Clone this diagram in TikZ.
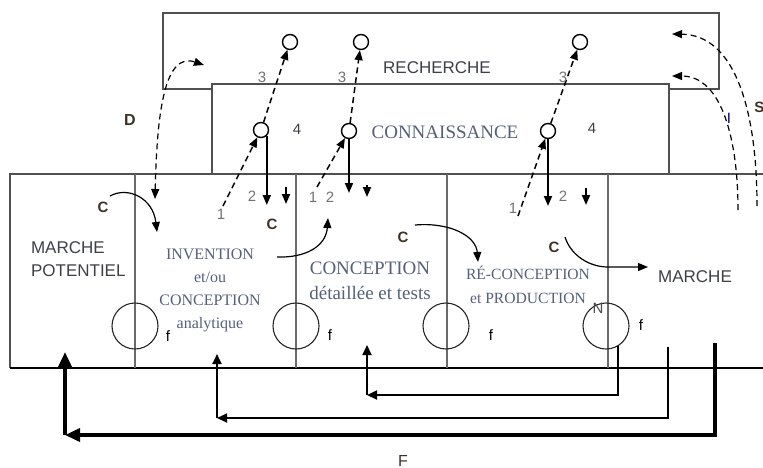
\documentclass[tikz,border=0pt]{standalone}
\usepackage{fontspec}
\setmainfont{Liberation Serif}
\setsansfont{Liberation Sans}
\usetikzlibrary{arrows.meta,positioning,calc}
\definecolor{Frame}{HTML}{505050}
\definecolor{Ink}{HTML}{3E4048}
\definecolor{Slate}{HTML}{56607A}
\definecolor{Brown}{HTML}{3E3226}
\tikzset{
  zone/.style={draw=Frame,line width=1.2pt},
  wall/.style={draw=Frame!85,line width=.7pt},
  knot/.style={draw,fill=white,circle,inner sep=0pt,minimum size=7.5pt,line width=.7pt},
  ring/.style={draw=black!85,circle,inner sep=0pt,minimum size=23pt,line width=.55pt},
  zonelab/.style={font=\sffamily\fontsize{8.5}{11.5}\selectfont,text=Ink,align=left},
  phase/.style={font=\fontsize{8}{11.5}\selectfont,text=Slate,align=center},
  num/.style={font=\sffamily\fontsize{7.5}{9}\selectfont,text=black!55,inner sep=1pt},
  clab/.style={font=\sffamily\bfseries\fontsize{7.5}{8}\selectfont,text=Brown,inner sep=1pt},
  link/.style={-{Triangle[length=5pt,width=4pt]},line width=.9pt},
  updash/.style={link,densely dashed,line width=.75pt},
  swing/.style={-{Triangle[length=5pt,width=4pt]},line width=.6pt},
  back/.style={-{Triangle[length=5pt,width=4.5pt]},line width=.9pt},
  bigback/.style={-{Triangle[length=7.5pt,width=6.5pt]},line width=1.8pt},
}
\begin{document}
\begin{tikzpicture}[x=.5pt,y=-.5pt]
\useasboundingbox (0,0) rectangle (763,467);
% blocks
\draw[zone] (163,13) rectangle (719,89);
\draw[zone,fill=white] (212,84) rectangle (669,174);
\draw[zone] (10,368) -- (10,174) -- (763,174);
\draw[zone,draw=black] (10,368) -- (763,368);
\foreach \x in {135,296,447,608} \draw[wall] (\x,174) -- (\x,368);

\node[zonelab] (rech) at (437,68) {RECHERCHE};
\node[phase,font=\fontsize{9.5}{11}\selectfont] (conn) at (445,132) {CONNAISSANCE};
\node[zonelab,anchor=west] (mpot) at (24,259) {MARCHE\\POTENTIEL};
\node[phase] (inv) at (210,290) {INVENTION\\et/ou\\CONCEPTION\\analytique};
\node[phase,font=\fontsize{9.5}{12.5}\selectfont] (det) at (370,281) {CONCEPTION\\détaillée et tests};
\node[phase,font=\fontsize{7.8}{12}\selectfont] (prod) at (528,285) {RÉ-CONCEPTION\\et PRODUCTION};
\node[zonelab] (mkt) at (695,277) {MARCHE};

% knowledge and research nodes
\node[knot] (r1) at (290,42) {};
\node[knot] (r2) at (361,42) {};
\node[knot] (r3) at (580,42) {};
\node[knot] (k1) at (261,130) {};
\node[knot] (k2) at (349,131) {};
\node[knot] (k3) at (548,131) {};

% feedback rings
\node[ring] (f1) at (135,326) {};
\node[ring] (f2) at (296,326) {};
\node[ring] (f3) at (446,326) {};
\node[ring] (f4) at (606,326) {};
\node[num,text=black] at (168,336) {f};
\node[num,text=black] at (330,335) {f};
\node[num,text=black] at (491,335) {f};
\node[num,text=black] at (641,325) {f};
\node[num,text=black!70] at (598,308) {N};

% paths 1, 2, 3
\coordinate (a1) at (223,206);
\coordinate (a2) at (317,187);
\coordinate (a3) at (518,216);
\draw[updash] (a1) -- (k1);
\draw[updash] (a2) -- (k2);
\draw[updash] (a3) -- (k3);
\draw[updash] (k1) -- (r1);
\draw[updash] (k2) -- (r2);
\draw[updash] (k3) -- (r3);
\coordinate (d1) at (266,205);
\coordinate (d2) at (346,193);
\coordinate (d3) at (548,206);
\draw[link] (k1.south east) -- (k1.south east |- d1);
\draw[link] (k2.south) -- (k2.south |- d2);
\draw[link] (k3.south) -- (k3.south |- d3);
\coordinate (e1) at (286,187);
\coordinate (e2) at (367,185);
\coordinate (e3) at (586,188);
\draw[link] (e1) -- ++(0,17);
\draw[link] (e2) -- ++(0,12);
\draw[link] (e3) -- ++(0,17);
\node[num] at (221,214) {1};
\node[num] at (313,197) {1};
\node[num] at (513,208) {1};
\node[num] at (252,196) {2};
\node[num] at (330,197) {2};
\node[num] at (563,196) {2};
\node[num] at (262,77) {3};
\node[num] at (342,77) {3};
\node[num] at (563,77) {3};
\node[num,text=Ink] at (297,129) {4};
\node[num,text=Ink] at (592,128) {4};

% chain-links C
\coordinate (cs1) at (110,196); \coordinate (ct1) at (157,232);
\coordinate (cs2) at (277,257); \coordinate (ct2) at (328,218);
\coordinate (cs3) at (415,225); \coordinate (ct3) at (478,262);
\coordinate (cs4) at (565,237); \coordinate (cm4) at (608,267); \coordinate (ct4) at (648,267);
\draw[swing] (cs1) .. controls (128,186) and (153,198) .. (ct1);
\draw[swing] (cs2) .. controls (306,258) and (326,246) .. (ct2);
\draw[swing] (cs3) .. controls (450,222) and (476,236) .. (ct3);
\draw[swing] (cs4) .. controls (571,256) and (590,267) .. (cm4) -- (ct4);
\node[clab] at (103,207) {C};
\node[clab] at (272,224) {C};
\node[clab] at (403,237) {C};
\node[clab] at (554,247) {C};

% D, I, S
\coordinate (dlo) at (155,199); \coordinate (dhi) at (204,65);
\draw[swing,densely dashed,{Triangle[length=5pt,width=4pt]}-{Triangle[length=5pt,width=4pt]}]
  (dlo) .. controls (157,110) and (165,52) .. (dhi);
\node[clab,font=\sffamily\bfseries\fontsize{8}{9}\selectfont] at (130,120) {D};
\coordinate (sb) at (757,206); \coordinate (st) at (672,34);
\coordinate (ib) at (738,210); \coordinate (it) at (672,76);
\draw[swing,densely dashed] (sb) .. controls (757,110) and (735,35) .. (st);
\draw[swing,densely dashed] (ib) .. controls (738,140) and (722,76) .. (it);
\node[num,text=blue!45!black] at (729,118) {I};
\node[clab,anchor=west] at (752,107) {S};

% feedback F
\coordinate (s2) at (668,347); \coordinate (s3) at (715,343);
\coordinate (c1) at (367,395); \coordinate (c2) at (217,418); \coordinate (c3) at (65,435);
\coordinate (t1) at (367,345); \coordinate (t2) at (217,354); \coordinate (t3) at (65,352);
\draw[back] (f4.-60) |- (c1);
\draw[back] (c1) -- (t1);
\draw[back] (s2) |- (c2);
\draw[back] (c2) -- (t2);
\draw[bigback] (s3) |- (c3);
\draw[bigback] (c3) -- (t3);
\node[clab,font=\sffamily\fontsize{8}{9}\selectfont] at (403,461) {F};
\end{tikzpicture}
\end{document}
